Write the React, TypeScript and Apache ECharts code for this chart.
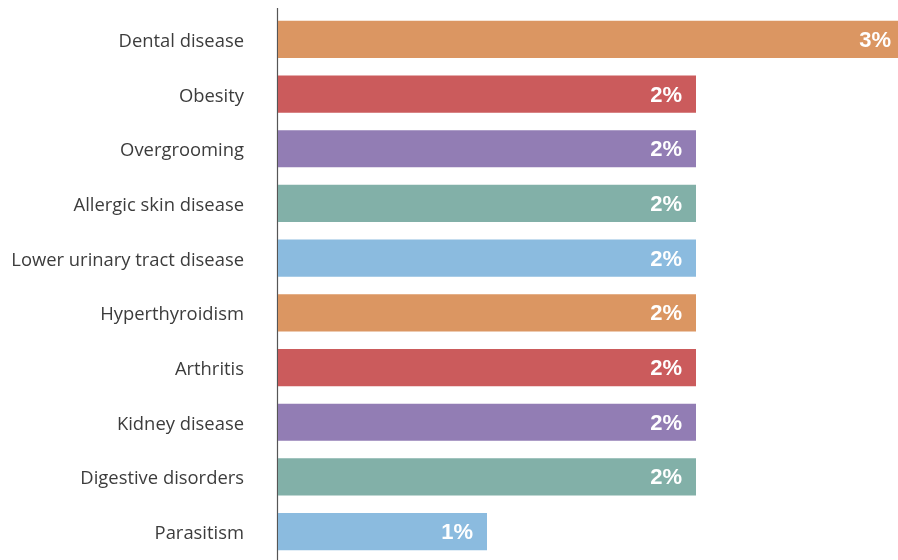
import React, { useEffect, useRef } from "react";
import * as echarts from "echarts";

const categories = [
  "Dental disease",
  "Obesity",
  "Overgrooming",
  "Allergic skin disease",
  "Lower urinary tract disease",
  "Hyperthyroidism",
  "Arthritis",
  "Kidney disease",
  "Digestive disorders",
  "Parasitism",
];
const values = [3, 2, 2, 2, 2, 2, 2, 2, 2, 1];
const colors = [
  "#DB9662",
  "#CB5B5C",
  "#927DB4",
  "#82B0A8",
  "#8BBBDF",
  "#DB9662",
  "#CB5B5C",
  "#927DB4",
  "#82B0A8",
  "#8BBBDF",
];

export default function App() {
  const ref = useRef<HTMLDivElement>(null);
  useEffect(() => {
    if (!ref.current) return;
    const chart = echarts.init(ref.current, null, { renderer: "svg" });
    chart.setOption({
      animation: false,
      grid: { left: 278, right: 0, top: 12, height: 547 },
      xAxis: {
        type: "value",
        min: 0,
        max: 3,
        show: false,
      },
      yAxis: {
        type: "category",
        data: categories,
        inverse: true,
        axisLine: { show: false },
        axisTick: { show: false },
        axisLabel: {
          color: "#3c3c3c",
          fontSize: 18.4,
          fontFamily: "Open Sans",
          margin: 34,
        },
      },
      graphic: [
        {
          type: "line",
          shape: { x1: 277.5, y1: 8, x2: 277.5, y2: 560 },
          style: { stroke: "#555", lineWidth: 1.2 },
        },
      ],
      series: [
        {
          type: "bar",
          data: values.map((v, i) => ({ value: v, itemStyle: { color: colors[i] } })),
          barCategoryGap: "32%",
          label: {
            show: true,
            position: "insideRight",
            distance: 14,
            color: "#fff",
            fontSize: 22,
            fontWeight: "bold",
            fontFamily: "Liberation Sans",
            formatter: (p: any) => Math.round(p.value) + "%",
          },
        },
      ],
    });
    return () => chart.dispose();
  }, []);
  return (
    <div
      style={{
        position: "fixed",
        left: 0,
        top: 0,
        width: 898,
        height: 560,
        overflow: "hidden",
      }}
    >
      <div ref={ref} style={{ width: 905, height: 560 }} />
    </div>
  );
}
